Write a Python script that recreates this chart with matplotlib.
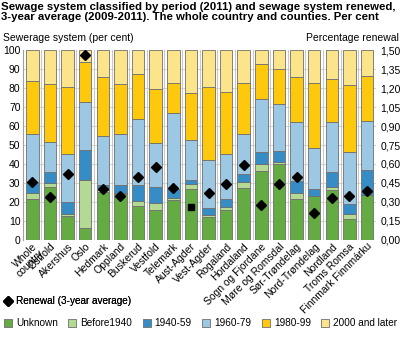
import matplotlib
matplotlib.use("Agg")
import matplotlib.pyplot as plt
import numpy as np
from matplotlib.patches import Patch
from matplotlib.lines import Line2D

plt.rcParams['font.family'] = ['Liberation Sans', 'DejaVu Sans']
plt.rcParams['font.size'] = 7.5

regions = ['Whole\ncountry', 'Østfold', 'Akershus', 'Oslo', 'Hedmark', 'Oppland',
           'Buskerud', 'Vestfold', 'Telemark', 'Aust-Agder', 'Vest-Agder',
           'Rogaland', 'Hordaland', 'Sogn og Fjordane', 'Møre og Romsdal',
           'Sør-Trøndelag', 'Nord-Trøndelag', 'Nordland', 'Troms Romsa',
           'Finnmark Finnmárku']

unknown = [21.5, 27.7, 12.8, 6.3, 25.5, 24.0, 18.0, 15.6, 21.2, 27.1,
           11.9, 15.6, 27.5, 36.4, 39.8, 21.5, 22.9, 26.4, 10.9, 23.5]
before1940 = [3.0, 2.1, 1.0, 25.4, 1.0, 0.6, 2.7, 3.8, 0.8, 2.3,
              1.2, 1.6, 3.1, 3.5, 1.4, 3.0, 0.5, 1.6, 2.6, 0.3]
p1940_59 = [5.8, 5.8, 6.3, 15.9, 2.5, 4.6, 8.5, 8.6, 5.0, 2.3,
            3.5, 4.2, 3.9, 6.5, 5.4, 6.8, 3.2, 7.7, 5.4, 12.8]
p1960_79 = [25.4, 15.9, 25.1, 25.1, 26.0, 26.8, 34.5, 23.1, 40.1, 20.7,
            25.3, 23.8, 21.5, 28.0, 25.2, 31.0, 21.6, 26.6, 27.2, 26.1]
p1980_99 = [27.8, 30.5, 35.5, 21.2, 31.0, 26.3, 23.9, 28.6, 15.7, 24.8,
            38.5, 32.9, 26.8, 18.2, 18.4, 23.7, 34.6, 22.6, 35.7, 23.6]
p2000_later = [16.5, 18.0, 19.3, 6.1, 14.0, 17.7, 12.4, 20.3, 17.2, 22.8,
               19.6, 21.9, 17.2, 7.4, 9.8, 14.0, 17.2, 15.1, 18.2, 13.7]

renewal = [0.46, 0.34, 0.52, 1.46, 0.40, 0.35, 0.50, 0.58, 0.41, 0.26,
           0.37, 0.44, 0.59, 0.28, 0.44, 0.50, 0.21, 0.33, 0.35, 0.39]

series = [('Unknown', unknown, '#63ab42'),
          ('Before1940', before1940, '#b4d992'),
          ('1940-59', p1940_59, '#368cc5'),
          ('1960-79', p1960_79, '#9cc8e3'),
          ('1980-99', p1980_99, '#fec80c'),
          ('2000 and later', p2000_later, '#fce48a')]

fig = plt.figure(figsize=(4.01, 3.38), dpi=100)
ax = fig.add_axes([0.058, 0.290, 0.880, 0.562])
x = np.arange(len(regions))

bottom = np.zeros(len(regions))
for name, vals, col in series:
    ax.bar(x, vals, bottom=bottom, width=0.71, color=col,
           edgecolor='#6e6e6e', linewidth=0.6, zorder=3)
    bottom += np.array(vals)

ax.set_xlim(-0.52, len(regions) - 0.48)
ax.set_ylim(0, 100)
ax.set_yticks(range(0, 101, 10))
ax.tick_params(axis='y', length=0, pad=2, labelsize=7.5)
ax.tick_params(axis='x', length=0, pad=1)
ax.set_xticks(x)
ax.set_xticklabels(regions, rotation=45, ha='right', va='top',
                   rotation_mode='anchor', fontsize=7.5, linespacing=0.85)
for yy in range(10, 100, 10):
    ax.axhline(yy, color='#d4d4d4', linewidth=0.8, zorder=1)
for xx in np.arange(0.5, len(regions) - 1, 1):
    ax.axvline(xx, color='#c8c8c8', linewidth=0.8, zorder=1)
for s in ['top', 'right', 'bottom']:
    ax.spines[s].set_visible(False)
ax.spines['left'].set_color('#a0a0a0')

ax2 = ax.twinx()
ax2.set_ylim(0, 1.5)
ax2.set_yticks(np.arange(0, 1.51, 0.15))
ax2.set_yticklabels([f'{v:.2f}'.replace('.', ',') for v in np.arange(0, 1.51, 0.15)])
ax2.tick_params(axis='y', length=0, pad=3, labelsize=7.5)
for s in ['top', 'right', 'bottom', 'left']:
    ax2.spines[s].set_visible(False)
markers = ['s' if r == 'Aust-Agder' else 'D' for r in regions]
for xi, val, m in zip(x, renewal, markers):
    ax2.plot(xi, val, marker=m, color='black',
             markersize=5.5 if m == 'D' else 5, linestyle='none', zorder=5)

fig.text(0.003, 0.995, 'Sewage system classified by period (2011) and sewage system renewed,\n'
         '3-year average (2009-2011). The whole country and counties. Per cent',
         ha='left', va='top', fontsize=8.2, fontweight='bold', linespacing=1.0)
fig.text(0.008, 0.872, 'Sewerage system (per cent)', ha='left', va='bottom', fontsize=7.5)
fig.text(0.995, 0.872, 'Percentage renewal', ha='right', va='bottom', fontsize=7.5)

leg1 = fig.legend(handles=[Line2D([], [], marker='D', color='black', linestyle='none',
                                  markersize=5.5)],
                  labels=['Renewal (3-year average)'], loc='upper left',
                  bbox_to_anchor=(0.0, 0.135), frameon=False, fontsize=7.2,
                  handlelength=0.8, handletextpad=0.4, borderaxespad=0)
handles = [Patch(facecolor=c, edgecolor='#6e6e6e', linewidth=0.6) for _, _, c in series]
fig.legend(handles=handles, labels=[n for n, _, _ in series], loc='upper left',
           bbox_to_anchor=(0.0, 0.07), ncol=6, frameon=False, fontsize=7.2,
           handlelength=0.8, handleheight=0.8, handletextpad=0.4,
           columnspacing=1.05, borderaxespad=0)
fig.add_artist(leg1)

fig.savefig('out.png', dpi=100)
